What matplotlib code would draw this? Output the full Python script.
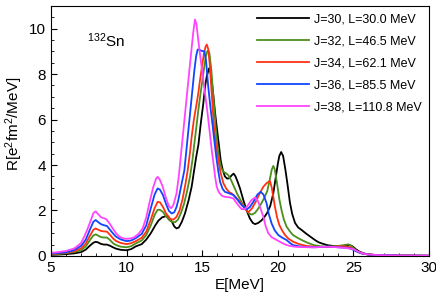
import numpy as np
import matplotlib.pyplot as plt
from matplotlib.ticker import MultipleLocator

plt.rcParams['font.family'] = ['Liberation Sans', 'DejaVu Sans']
plt.rcParams['mathtext.default'] = 'regular'

# J=30, L=30.0 MeV
e_j30 = [5.0, 5.5, 6.0, 6.5, 7.0, 7.3, 7.6, 7.8, 7.95, 8.1, 8.3, 8.5, 8.7, 8.9, 9.1, 9.3,
         9.6, 10.0, 10.3, 10.6, 11.0, 11.3, 11.6, 11.9, 12.1, 12.35, 12.6, 12.8, 13.0,
         13.15, 13.3, 13.45, 13.65, 13.86, 14.1, 14.3, 14.45, 14.6, 14.75, 14.9, 15.07,
         15.2, 15.3, 15.45, 15.55, 15.7, 15.85, 15.96, 16.1, 16.22, 16.35, 16.5, 16.65,
         16.8, 16.95, 17.08, 17.2, 17.35, 17.5, 17.7, 17.94, 18.15, 18.35, 18.5, 18.7,
         18.9, 19.1, 19.3, 19.5, 19.7, 19.85, 20.0, 20.1, 20.22, 20.35, 20.5, 20.65, 20.8,
         20.95, 21.14, 21.35, 21.58, 21.8, 22.0, 22.25, 22.46, 22.7, 23.0, 23.3, 23.67,
         24.0, 24.3, 24.55, 24.75, 24.95, 25.15, 25.4, 25.7, 26.0, 26.5, 27.0, 28.0, 30.0]
r_j30 = [0.05, 0.06, 0.08, 0.11, 0.17, 0.28, 0.47, 0.58, 0.62, 0.6, 0.53, 0.5, 0.5, 0.45, 0.38, 0.32,
         0.27, 0.25, 0.3, 0.42, 0.52, 0.72, 1.0, 1.35, 1.55, 1.7, 1.75, 1.68, 1.5,
         1.3, 1.21, 1.25, 1.5, 1.87, 2.45, 3.04, 3.7, 4.35, 4.9, 5.8, 6.7,
         7.5, 7.9, 8.25, 8.1, 7.3, 6.3, 5.67, 4.9, 4.21, 3.8, 3.5, 3.4,
         3.42, 3.55, 3.62, 3.5, 3.25, 2.97, 2.5, 2.0, 1.65, 1.45, 1.40, 1.45,
         1.55, 1.7, 1.9, 2.2, 2.75, 3.4, 4.05, 4.4, 4.57, 4.4, 3.8, 3.1, 2.35,
         1.85, 1.45, 1.25, 1.14, 1.02, 0.92, 0.8, 0.7, 0.6, 0.53, 0.47, 0.44,
         0.43, 0.44, 0.47, 0.48, 0.42, 0.3, 0.19, 0.11, 0.07, 0.04, 0.03, 0.02, 0.01]

# J=32, L=46.5 MeV
e_j32 = [5.0, 5.5, 6.0, 6.5, 7.0, 7.3, 7.6, 7.8, 7.95, 8.1, 8.3, 8.5, 8.7, 8.9, 9.1, 9.3,
         9.6, 10.0, 10.3, 10.6, 11.0, 11.3, 11.6, 11.85, 12.05, 12.2, 12.4, 12.6, 12.83,
         13.0, 13.2, 13.4, 13.6, 13.8, 14.0, 14.19, 14.35, 14.48, 14.6, 14.74, 14.88,
         15.01, 15.12, 15.23, 15.32, 15.4, 15.48, 15.6, 15.75, 15.89, 16.0, 16.14, 16.27,
         16.4, 16.55, 16.73, 16.9, 17.06, 17.3, 17.6, 17.94, 18.1, 18.3, 18.5, 18.71,
         18.9, 19.1, 19.3, 19.45, 19.6, 19.7, 19.8, 19.97, 20.1, 20.25, 20.4, 20.58,
         20.8, 21.0, 21.3, 21.58, 21.9, 22.35, 22.8, 23.2, 23.6, 24.0, 24.4, 24.67,
         24.9, 25.2, 25.5, 26.0, 26.5, 27.0, 28.0, 30.0]
r_j32 = [0.07, 0.09, 0.12, 0.17, 0.26, 0.42, 0.72, 0.9, 0.95, 0.9, 0.83, 0.81, 0.81, 0.7, 0.56, 0.48,
         0.41, 0.38, 0.43, 0.55, 0.68, 0.92, 1.35, 1.8, 2.03, 2.03, 1.94, 1.75, 1.57,
         1.5, 1.48, 1.6, 1.9, 2.3, 2.85, 3.48, 4.2, 4.94, 5.6, 6.4, 7.1,
         7.72, 8.25, 8.74, 8.98, 9.04, 8.9, 8.2, 6.9, 5.67, 4.9, 4.21, 3.85,
         3.70, 3.65, 3.55, 3.35, 3.11, 2.75, 2.38, 2.02, 1.86, 1.82, 1.9, 2.09,
         2.3, 2.55, 2.85, 3.3, 3.8, 3.96, 3.8, 3.1, 2.5, 2.0, 1.6, 1.29,
         1.08, 0.92, 0.8, 0.70, 0.6, 0.48, 0.43, 0.41, 0.42, 0.44, 0.48, 0.51,
         0.42, 0.22, 0.12, 0.06, 0.04, 0.03, 0.02, 0.01]

# J=34, L=62.1 MeV
e_j34 = [5.0, 5.5, 6.0, 6.5, 7.0, 7.3, 7.6, 7.8, 7.95, 8.1, 8.3, 8.5, 8.7, 8.9, 9.1, 9.3,
         9.6, 10.0, 10.3, 10.6, 11.0, 11.3, 11.6, 11.85, 12.05, 12.2, 12.4, 12.6, 12.9,
         13.1, 13.3, 13.5, 13.7, 13.9, 14.04, 14.2, 14.3, 14.45, 14.63, 14.75, 14.85,
         15.0, 15.1, 15.22, 15.3, 15.4, 15.5, 15.62, 15.78, 15.92, 16.07, 16.2, 16.4,
         16.6, 16.8, 16.95, 17.2, 17.4, 17.6, 17.8, 18.05, 18.3, 18.6, 18.8, 19.04,
         19.25, 19.48, 19.6, 19.7, 19.81, 19.95, 20.1, 20.3, 20.48, 20.7, 21.0, 21.4,
         21.9, 22.5, 23.2, 23.6, 24.0, 24.4, 24.8, 25.1, 25.4, 25.7, 26.0, 27.0, 28.0, 30.0]
r_j34 = [0.09, 0.11, 0.14, 0.2, 0.34, 0.55, 0.92, 1.15, 1.21, 1.16, 1.1, 1.08, 1.07, 0.93, 0.77, 0.66,
         0.57, 0.52, 0.56, 0.65, 0.8, 1.07, 1.6, 2.1, 2.38, 2.36, 2.16, 1.88, 1.62,
         1.6, 1.72, 2.0, 2.5, 3.2, 3.77, 4.6, 5.23, 6.0, 6.7, 7.2, 7.72,
         8.4, 8.85, 9.2, 9.3, 9.1, 8.4, 7.2, 5.67, 4.8, 4.21, 3.7, 3.2,
         2.95, 2.8, 2.75, 2.6, 2.45, 2.31, 2.08, 1.92, 2.1, 2.46, 2.75, 3.04,
         3.2, 3.30, 3.0, 2.6, 2.16, 1.7, 1.36, 1.1, 0.92, 0.76, 0.63, 0.52,
         0.44, 0.4, 0.39, 0.4, 0.42, 0.42, 0.38, 0.25, 0.15, 0.09, 0.06, 0.03, 0.02, 0.01]

# J=36, L=85.5 MeV
e_j36 = [5.0, 5.5, 6.0, 6.5, 7.0, 7.3, 7.6, 7.8, 7.95, 8.1, 8.3, 8.5, 8.7, 8.9, 9.1, 9.3,
         9.6, 10.0, 10.3, 10.6, 11.0, 11.3, 11.6, 11.85, 12.05, 12.2, 12.4, 12.6, 12.8,
         12.98, 13.15, 13.3, 13.42, 13.6, 13.82, 14.04, 14.26, 14.48, 14.6, 14.7, 14.8,
         14.95, 15.14, 15.25, 15.4, 15.55, 15.7, 15.83, 15.96, 16.07, 16.18, 16.35, 16.5,
         16.8, 17.06, 17.3, 17.6, 17.94, 18.15, 18.4, 18.65, 18.87, 19.05, 19.26, 19.4,
         19.59, 19.8, 20.03, 20.3, 20.58, 20.8, 21.0, 21.4, 21.9, 22.5, 23.0, 23.5,
         24.0, 24.5, 24.8, 25.2, 25.5, 26.0, 26.5, 28.0, 30.0]
r_j36 = [0.11, 0.13, 0.16, 0.25, 0.45, 0.72, 1.2, 1.5, 1.58, 1.5, 1.4, 1.35, 1.32, 1.15, 0.99, 0.85,
         0.73, 0.65, 0.68, 0.78, 0.97, 1.35, 2.1, 2.7, 2.97, 2.92, 2.68, 2.3, 1.98,
         1.87, 1.92, 2.15, 2.46, 3.05, 3.77, 5.23, 6.7, 8.16, 8.8, 9.08, 9.07,
         9.02, 9.0, 8.6, 7.43, 6.5, 5.67, 4.9, 4.21, 3.7, 3.26, 2.95, 2.82,
         2.75, 2.68, 2.5, 2.24, 2.05, 2.15, 2.4, 2.7, 2.82, 2.7, 2.31, 1.85,
         1.43, 1.12, 0.92, 0.8, 0.70, 0.57, 0.48, 0.42, 0.39, 0.38, 0.40, 0.41,
         0.38, 0.36, 0.33, 0.2, 0.12, 0.06, 0.04, 0.02, 0.01]

# J=38, L=110.8 MeV
e_j38 = [5.0, 5.5, 6.0, 6.54, 6.98, 7.2, 7.43, 7.65, 7.8, 7.95, 8.1, 8.31, 8.5, 8.64, 8.85,
         9.08, 9.3, 9.52, 9.75, 9.96, 10.25, 10.5, 10.8, 11.06, 11.3, 11.5, 11.75, 11.95,
         12.05, 12.2, 12.39, 12.6, 12.8, 12.95, 13.1, 13.3, 13.45, 13.6, 13.82, 14.04,
         14.26, 14.4, 14.52, 14.62, 14.72, 14.85, 15.0, 15.19, 15.35, 15.52, 15.64, 15.74,
         15.85, 15.96, 16.1, 16.3, 16.5, 16.8, 17.06, 17.3, 17.6, 17.83, 18.05, 18.25,
         18.49, 18.7, 18.9, 19.04, 19.2, 19.37, 19.6, 19.93, 20.2, 20.5, 20.8, 21.2,
         21.7, 22.3, 23.0, 23.5, 24.0, 24.5, 25.0, 25.4, 25.8, 26.5, 27.0, 28.0, 30.0]
r_j38 = [0.14, 0.17, 0.22, 0.33, 0.56, 0.85, 1.21, 1.6, 1.88, 1.96, 1.85, 1.7, 1.66, 1.62, 1.45,
         1.21, 1.0, 0.85, 0.78, 0.75, 0.77, 0.82, 0.98, 1.21, 1.7, 2.31, 3.0, 3.4,
         3.48, 3.35, 3.04, 2.55, 2.18, 2.1, 2.25, 2.75, 3.5, 4.5, 5.96, 7.43,
         8.89, 9.8, 10.4, 10.2, 9.6, 8.89, 8.1, 7.13, 6.3, 5.3, 4.6, 4.1,
         3.5, 3.04, 2.8, 2.65, 2.6, 2.58, 2.53, 2.3, 2.06, 2.06, 2.25, 2.45,
         2.57, 2.4, 2.0, 1.73, 1.3, 1.0, 0.82, 0.70, 0.6, 0.5, 0.44, 0.4,
         0.39, 0.38, 0.40, 0.4, 0.38, 0.35, 0.30, 0.16, 0.08, 0.04, 0.03, 0.02, 0.01]

labels = ['J=30, L=30.0 MeV', 'J=32, L=46.5 MeV', 'J=34, L=62.1 MeV',
          'J=36, L=85.5 MeV', 'J=38, L=110.8 MeV']
colors = ['black', '#4b8f1c', '#ff3311', '#1144ff', '#ff44ff']
series = [(e_j30, r_j30), (e_j32, r_j32), (e_j34, r_j34), (e_j36, r_j36), (e_j38, r_j38)]

fig = plt.figure(figsize=(4.36, 3.08), dpi=100)
ax = fig.add_axes([0.117, 0.169, 0.867, 0.812])

for (e, r), lab, c in zip(series, labels, colors):
    ax.plot(e, r, color=c, lw=1.3, label=lab, solid_joinstyle='round')

ax.set_xlim(5, 30)
ax.set_ylim(0, 11)
ax.xaxis.set_major_locator(MultipleLocator(5))
ax.xaxis.set_minor_locator(MultipleLocator(1))
ax.yaxis.set_major_locator(MultipleLocator(2))
ax.yaxis.set_minor_locator(MultipleLocator(0.5))
ax.tick_params(which='both', direction='in', labelsize=11)
ax.tick_params(which='major', length=4)
ax.tick_params(which='minor', length=2)

ax.set_xlabel('E[MeV]', fontsize=11, labelpad=2)
ax.set_ylabel('R[e$^2$fm$^2$/MeV]', fontsize=11)
ax.yaxis.set_label_coords(-0.07, 0.53)
ax.text(7.4, 9.2, '$^{132}$Sn', fontsize=11)

ax.legend(loc='upper right', frameon=False, fontsize=9, handlelength=4.15,
          handletextpad=0.4, labelspacing=0.8, borderaxespad=0.2)

plt.savefig('out.png', dpi=100)
